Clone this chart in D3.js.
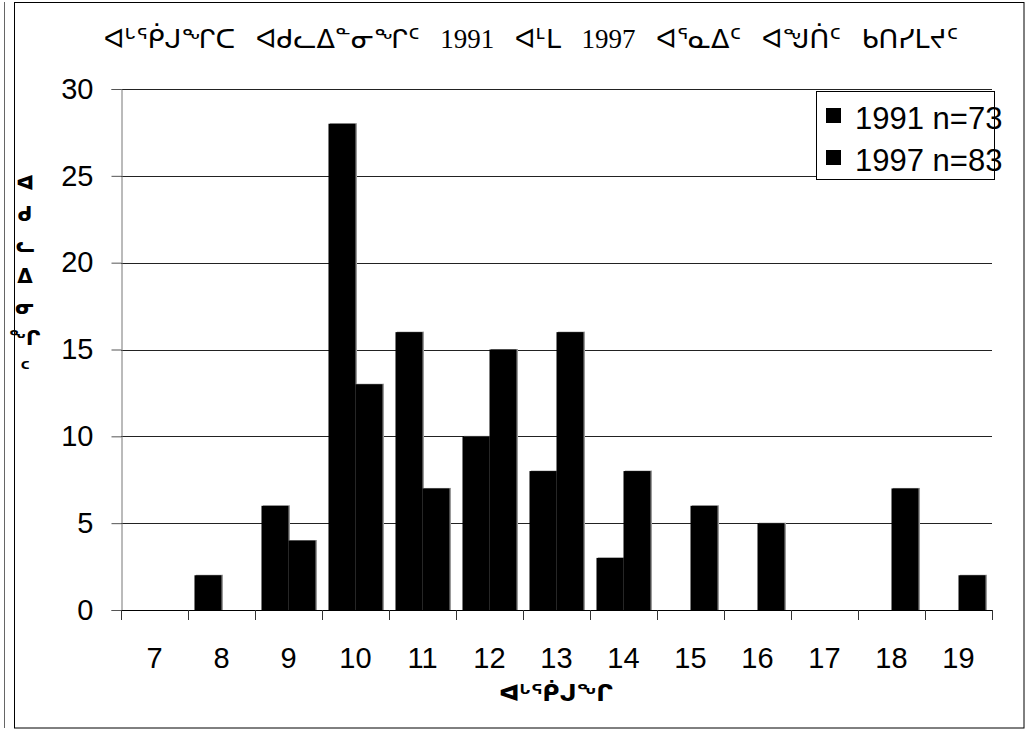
<!DOCTYPE html>
<html>
<head>
<meta charset="utf-8">
<script src="https://cdn.jsdelivr.net/npm/d3@7"></script>
<style>
  body { margin: 0; background: #fff; }
  svg { display: block; }
</style>
</head>
<body>
<div id="chart"></div>
<script>
// chart data
var ages = ["7", "8", "9", "10", "11", "12", "13", "14", "15", "16", "17", "18", "19"];
var counts1991 = [0, 2, 6, 28, 16, 10, 8, 3, 0, 0, 0, 0, 0];
var counts1997 = [0, 0, 4, 13, 7, 15, 16, 8, 6, 5, 0, 7, 2];
var seriesNames = ["1991 n=73", "1997 n=83"];
var yTicks = [0, 5, 10, 15, 20, 25, 30];

var titleText = "ᐊᒡᖀᒍᖏᑕ  ᐊᑯᓚᐃᓐᓂᖏᑦ  1991  ᐊᒻᒪ  1997  ᐊᕐᓇᐃᑦ  ᐊᖑᑏᑦ  ᑲᑎᓯᒪᔪᑦ";
var xLabel = "ᐊᒡᖀᒍᖏ";
var yLabel = "ᐊᑯᓚᐃᓂᖏᑦ";

// set dimensions
var width = 1035;
var height = 729;
var plot = { left: 121, right: 992, top: 89, bottom: 610 };

var svg = d3.select("#chart")
  .append("svg")
    .attr("width", width)
    .attr("height", height);

// outer frame
svg.append("line")
  .attr("x1", 4.5).attr("x2", 4.5).attr("y1", 2).attr("y2", 728)
  .attr("stroke", "#666").attr("stroke-width", 1);
svg.append("rect")
  .attr("x", 14.5).attr("y", 2.5)
  .attr("width", 1024 - 14.5).attr("height", 728 - 2.5)
  .attr("fill", "none").attr("stroke", "#000").attr("stroke-width", 1);

var rows = ages.map(function(a, i) {
  return { age: a, values: [counts1991[i], counts1997[i]] };
});

// scales
var x0 = d3.scaleBand().domain(ages).range([plot.left, plot.right]).padding(0);
var x1 = d3.scaleBand().domain([0, 1]).range([0, x0.bandwidth()])
  .paddingInner(0).paddingOuter(0.24);
var y = d3.scaleLinear().domain([0, 30]).range([plot.bottom, plot.top]);

// gridlines
svg.append("g")
  .selectAll("line")
  .data(yTicks.slice(1))
  .enter()
  .append("line")
    .attr("x1", plot.left).attr("x2", plot.right)
    .attr("y1", function(d) { return Math.round(y(d)) + 0.5; })
    .attr("y2", function(d) { return Math.round(y(d)) + 0.5; })
    .attr("stroke", "#222")
    .attr("stroke-width", 1);

// bars
var groups = svg.append("g")
  .selectAll("g")
  .data(rows)
  .enter()
  .append("g")
    .attr("transform", function(d) { return "translate(" + x0(d.age) + ",0)"; });

// grey shadow on the right edge
groups.selectAll("rect.shadow")
  .data(function(d) { return d.values.map(function(v, k) { return { k: k, v: v }; }); })
  .enter()
  .filter(function(d) { return d.v > 0; })
  .append("rect")
    .attr("class", "shadow")
    .attr("x", function(d) { return x1(d.k) + 1.5; })
    .attr("y", function(d) { return y(d.v) - 0.5; })
    .attr("width", x1.bandwidth())
    .attr("height", function(d) { return plot.bottom - y(d.v) + 0.5; })
    .attr("fill", "#9a9a9a");

groups.selectAll("rect.bar")
  .data(function(d) { return d.values.map(function(v, k) { return { k: k, v: v }; }); })
  .enter()
  .filter(function(d) { return d.v > 0; })
  .append("rect")
    .attr("class", "bar")
    .attr("x", function(d) { return x1(d.k); })
    .attr("y", function(d) { return y(d.v); })
    .attr("width", x1.bandwidth())
    .attr("height", function(d) { return plot.bottom - y(d.v); })
    .attr("fill", "#000");

// y axis
var yAxis = d3.axisLeft(y).tickValues(yTicks).tickSize(10).tickPadding(18);
var gy = svg.append("g")
  .attr("transform", "translate(" + (plot.left + 0.5) + ",0)")
  .call(yAxis);
gy.select(".domain").attr("stroke", "#777");
gy.selectAll(".tick line").attr("stroke", "#555");
gy.selectAll("text")
  .attr("font-family", "Liberation Sans, Arial, sans-serif")
  .attr("font-size", 29)
  .attr("fill", "#000");

// x axis: tick marks on band edges, labels in band centres
var edges = ages.map(function(a) { return x0(a); }).concat([plot.right]);
svg.append("line")
  .attr("x1", plot.left).attr("x2", plot.right)
  .attr("y1", plot.bottom + 0.5).attr("y2", plot.bottom + 0.5)
  .attr("stroke", "#000");
svg.append("g")
  .selectAll("line")
  .data(edges)
  .enter()
  .append("line")
    .attr("x1", function(d) { return Math.round(d) + 0.5; })
    .attr("x2", function(d) { return Math.round(d) + 0.5; })
    .attr("y1", plot.bottom).attr("y2", plot.bottom + 10)
    .attr("stroke", "#333");
svg.append("g")
  .selectAll("text")
  .data(ages)
  .enter()
  .append("text")
    .attr("x", function(d) { return x0(d) + x0.bandwidth() / 2; })
    .attr("y", 668)
    .attr("text-anchor", "middle")
    .attr("font-family", "Liberation Sans, Arial, sans-serif")
    .attr("font-size", 29)
    .text(function(d) { return d; });

// title
svg.append("text")
  .attr("x", 531)
  .attr("y", 48)
  .attr("text-anchor", "middle")
  .attr("font-family", "Liberation Serif, DejaVu Sans")
  .attr("font-size", 27)
  .style("white-space", "pre")
  .style("word-spacing", "3.5px")
  .text(titleText);

// axis titles
svg.append("text")
  .attr("x", 556)
  .attr("y", 701)
  .attr("text-anchor", "middle")
  .attr("font-family", "DejaVu Sans")
  .attr("font-weight", "bold")
  .attr("font-size", 23)
  .text(xLabel);

svg.append("g")
  .selectAll("text")
  .data(Array.from(yLabel))
  .enter()
  .append("text")
    .attr("x", 25)
    .attr("y", function(d, i) { return 190 + i * 31; })
    .attr("text-anchor", "middle")
    .attr("font-family", "DejaVu Sans")
    .attr("font-weight", "bold")
    .attr("font-size", 20)
    .text(function(d) { return d; });

// legend
var legend = svg.append("g");
legend.append("rect")
  .attr("x", 816.5).attr("y", 91.5)
  .attr("width", 178).attr("height", 88)
  .attr("fill", "#fff").attr("stroke", "#000");
var items = legend.selectAll("g")
  .data(seriesNames)
  .enter()
  .append("g")
    .attr("transform", function(d, i) { return "translate(0," + (i * 42) + ")"; });
items.append("rect")
  .attr("x", 826).attr("y", 108)
  .attr("width", 15).attr("height", 15)
  .attr("fill", "#000");
items.append("text")
  .attr("x", 855).attr("y", 129)
  .attr("font-family", "Liberation Sans, Arial, sans-serif")
  .attr("font-size", 31)
  .text(function(d) { return d; });
</script>
</body>
</html>
